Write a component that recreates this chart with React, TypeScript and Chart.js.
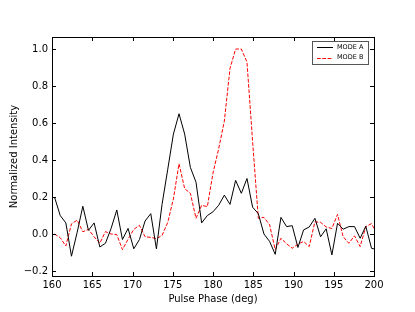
import React, { useEffect, useRef } from "react";
import { Chart, registerables } from "chart.js";

Chart.register(...registerables);

const phases = [160.31, 161.02, 161.72, 162.42, 163.13, 163.83, 164.53, 165.23, 165.94, 166.64, 167.34, 168.05, 168.75, 169.45, 170.16, 170.86, 171.56, 172.27, 172.97, 173.67, 174.38, 175.08, 175.78, 176.48, 177.19, 177.89, 178.59, 179.30, 180.00, 180.70, 181.41, 182.11, 182.81, 183.52, 184.22, 184.92, 185.63, 186.33, 187.03, 187.73, 188.44, 189.14, 189.84, 190.55, 191.25, 191.95, 192.66, 193.36, 194.06, 194.77, 195.47, 196.17, 196.88, 197.58, 198.28, 198.98, 199.69, 200.39];

const modeA = [0.20, 0.10, 0.06, -0.12, 0.01, 0.15, 0.02, 0.06, -0.07, -0.05, 0.03, 0.13, -0.03, 0.03, -0.08, -0.03, 0.07, 0.11, -0.08, 0.16, 0.35, 0.54, 0.65, 0.54, 0.36, 0.28, 0.06, 0.10, 0.12, 0.155, 0.21, 0.16, 0.29, 0.22, 0.30, 0.145, 0.11, 0.0, -0.04, -0.11, 0.09, 0.04, 0.045, -0.073, 0.022, 0.038, 0.085, -0.015, 0.028, -0.113, 0.058, 0.026, 0.04, 0.04, -0.023, 0.042, -0.077, -0.085];

const modeB = [0.0, -0.02, -0.065, 0.055, 0.075, 0.012, 0.025, -0.015, -0.05, 0.013, 0.0, -0.003, -0.085, -0.028, 0.025, 0.047, -0.015, -0.018, -0.025, -0.008, 0.063, 0.19, 0.38, 0.245, 0.22, 0.085, 0.155, 0.148, 0.33, 0.46, 0.61, 0.895, 1.0, 1.0, 0.93, 0.5, 0.085, 0.09, 0.05, -0.085, -0.023, -0.053, -0.077, -0.055, -0.04, -0.068, 0.066, 0.063, 0.038, 0.03, 0.106, -0.015, -0.05, -0.01, -0.068, 0.04, 0.056, 0.0];

const xTicks = [160, 165, 170, 175, 180, 185, 190, 195, 200];
const yTicks = [-0.2, 0.0, 0.2, 0.4, 0.6, 0.8, 1.0];
const seriesLabels = ["MODE A", "MODE B"];

const FONT = "'DejaVu Sans', 'Liberation Sans', sans-serif";

const framePlugin = {
  id: "frameAndLegend",
  afterDraw(chart: any) {
    const { ctx, chartArea } = chart;
    const { left, right, top, bottom } = chartArea;
    const xs = chart.scales.x;
    const ys = chart.scales.y;
    ctx.save();
    ctx.strokeStyle = "#000";
    ctx.lineWidth = 1;
    ctx.strokeRect(Math.round(left) + 0.5, Math.round(top) + 0.5, Math.round(right - left), Math.round(bottom - top));
    const tl = 4;
    ctx.beginPath();
    xTicks.forEach((v) => {
      const px = Math.round(xs.getPixelForValue(v)) + 0.5;
      ctx.moveTo(px, bottom);
      ctx.lineTo(px, bottom - tl);
      ctx.moveTo(px, top);
      ctx.lineTo(px, top + tl);
    });
    yTicks.forEach((v) => {
      const py = Math.round(ys.getPixelForValue(v)) + 0.5;
      ctx.moveTo(left, py);
      ctx.lineTo(left + tl, py);
      ctx.moveTo(right, py);
      ctx.lineTo(right - tl, py);
    });
    ctx.stroke();

    // legend
    const bx = 312.5, by = 41.5, bw = 56, bh = 23;
    ctx.fillStyle = "#fff";
    ctx.fillRect(bx, by, bw, bh);
    ctx.strokeStyle = "#555";
    ctx.strokeRect(bx, by, bw, bh);
    const ds = chart.data.datasets;
    ds.forEach((d: any, i: number) => {
      const cy = 47 + i * 10.5;
      ctx.beginPath();
      ctx.strokeStyle = d.borderColor;
      ctx.lineWidth = 1;
      ctx.setLineDash(d.borderDash || []);
      ctx.moveTo(317, Math.round(cy) + 0.5);
      ctx.lineTo(333, Math.round(cy) + 0.5);
      ctx.stroke();
      ctx.setLineDash([]);
      ctx.fillStyle = "#000";
      ctx.font = `6.5px ${FONT}`;
      ctx.textBaseline = "middle";
      ctx.textAlign = "left";
      ctx.fillText(d.label, 337, cy);
    });
    ctx.restore();
  },
};

export default function App() {
  const ref = useRef<HTMLCanvasElement | null>(null);
  useEffect(() => {
    document.body.style.margin = "0";
    const canvas = ref.current;
    if (!canvas) return;
    const chart = new Chart(canvas, {
      type: "line",
      data: {
        datasets: [
          {
            label: seriesLabels[0],
            data: phases.map((p, i) => ({ x: p, y: modeA[i] })),
            borderColor: "#000000",
            borderWidth: 1,
            pointRadius: 0,
            tension: 0,
            fill: false,
          },
          {
            label: seriesLabels[1],
            data: phases.map((p, i) => ({ x: p, y: modeB[i] })),
            borderColor: "#ff0000",
            borderWidth: 1,
            borderDash: [3.7, 1.6],
            pointRadius: 0,
            tension: 0,
            fill: false,
          },
        ],
      },
      options: {
        animation: false,
        responsive: false,
        maintainAspectRatio: false,
        events: [],
        layout: { padding: { top: 37, right: 41, left: 0, bottom: 0 } },
        plugins: { legend: { display: false }, tooltip: { enabled: false } },
        scales: {
          x: {
            type: "linear",
            min: 160,
            max: 200,
            grid: { display: false, drawTicks: false },
            border: { display: false },
            afterBuildTicks: (s: any) => {
              s.ticks = xTicks.map((v) => ({ value: v }));
            },
            afterFit: (s: any) => {
              s.height = 36;
            },
            ticks: {
              padding: 3,
              color: "#000",
              font: { family: FONT, size: 10 },
              maxRotation: 0,
              autoSkip: false,
              callback: (v: any) => String(v),
            },
            title: {
              display: true,
              text: "Pulse Phase (deg)",
              color: "#000",
              font: { family: FONT, size: 10 },
              padding: { top: 0, bottom: 7 },
            },
          },
          y: {
            type: "linear",
            min: -0.227,
            max: 1.065,
            grid: { display: false, drawTicks: false },
            border: { display: false },
            afterBuildTicks: (s: any) => {
              s.ticks = yTicks.map((v) => ({ value: v }));
            },
            afterFit: (s: any) => {
              s.width = 52;
            },
            ticks: {
              padding: 4,
              color: "#000",
              font: { family: FONT, size: 10 },
              autoSkip: false,
              callback: (v: any) => Number(v).toFixed(1).replace("-", "\u2212"),
            },
            title: {
              display: true,
              text: "Normalized Intensity",
              color: "#000",
              font: { family: FONT, size: 10 },
              padding: { top: 8, bottom: 0 },
            },
          },
        },
      },
      plugins: [framePlugin],
    } as any);
    return () => chart.destroy();
  }, []);
  return (
    <div style={{ position: "absolute", left: 0, top: 0, width: 415, height: 312 }}>
      <canvas ref={ref} width={415} height={312} />
    </div>
  );
}
